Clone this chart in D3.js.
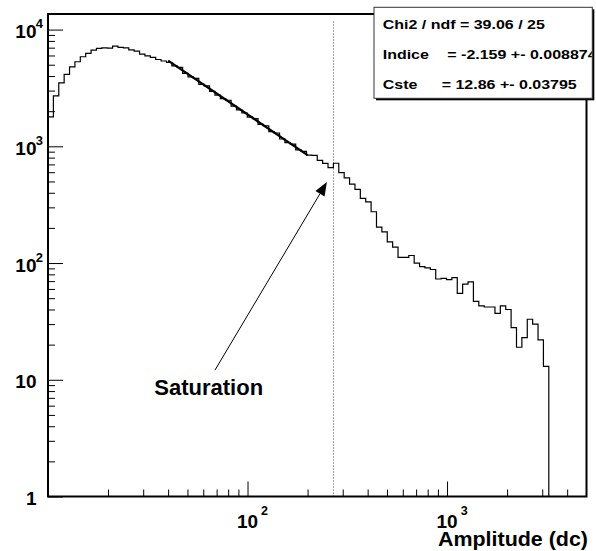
<!DOCTYPE html>
<html><head><meta charset="utf-8">
<script src="https://cdn.jsdelivr.net/npm/d3@7"></script>
<style>
body{margin:0;background:#fff}
svg{display:block}
text{font-family:"Liberation Sans",Arial,Helvetica,sans-serif;font-weight:bold;fill:#000}
</style>
</head><body>
<svg id="c" width="596" height="551"></svg>
<script>
// ---- data ----
const binRange = [10, 5000];      // log-spaced histogram range
const nBins = 100;
const counts = [
  1790, 2710, 3500, 4130, 4800, 5300, 5850, 6250, 6670, 6900,
  6980, 6950, 7220, 7040, 6980, 6700, 6550, 6170, 5965, 5770,
  5545, 5380, 5225, 4880, 4740, 4220, 3930, 3820, 3400, 3300,
  2950, 2740, 2560, 2480, 2210, 2055, 1930, 1780, 1730, 1540,
  1500, 1335, 1300, 1155, 1075, 1045, 931, 904, 841, 835,
  757, 714, 656, 716, 595, 536, 474, 427, 358, 334,
  275, 203, 185, 152, 137, 112, 112, 116, 100, 93,
  91, 88, 73, 74, 72, 75, 55, 66, 69, 47,
  43, 42, 42, 37, 43, 40, 28, 19, 23, 33,
  30, 22, 13, 0, 0, 0, 0, 0, 0, 0
];
const fitX = [40, 200];
const fitY = [5420, 841];
const xTickValues = [100, 1000];
const xTickBase = ["10", "10"];
const xTickExp = ["2", "3"];
const yTickValues = [1, 10, 100, 1000, 10000];
const yTickBase = ["1", "10", "10", "10", "10"];
const yTickExp = ["", "", "2", "3", "4"];
const statLabels = ["Chi2 / ndf", "Indice", "Cste"];
const statValues = ["= 39.06 / 25", "= -2.159 +- 0.008874", "= 12.86 +- 0.03795"];
const saturationX = 270;
const saturationTop = 12000;
const arrowFrom = [68.7, 12.1];
const arrowTo = [250, 494];
const noteText = "Saturation";
const notePos = [63.9, 7.4];
const xTitle = "Amplitude (dc)";
const yMax = 13600;

// ---- layout ----
const L = 48, R = 586.5, T = 14, B = 496.5;
const svg = d3.select("#c");
const x = d3.scaleLog().domain(binRange).range([L, R]);
const y = d3.scaleLog().domain([1, yMax]).range([B, T]).clamp(true);

// ticks
const yMinor = [];
for (let d = 0; d <= 4; d++) for (let m = 2; m <= 9; m++) { const v = m * Math.pow(10, d); if (v < yMax) yMinor.push(v); }
const xMinor = [];
for (let d = 1; d <= 3; d++) for (let m = 2; m <= 9; m++) { const v = m * Math.pow(10, d); if (v < binRange[1]) xMinor.push(v); }

function styleAxis(g) {
  g.select(".domain").remove();
  g.selectAll(".tick text").remove();
  g.selectAll(".tick line").attr("stroke", "#000").attr("stroke-width", 1);
}
svg.append("g").attr("transform", `translate(${L},0)`)
  .call(d3.axisRight(y).tickValues(yTickValues).tickSize(15).tickFormat("")).call(styleAxis);
svg.append("g").attr("transform", `translate(${L},0)`)
  .call(d3.axisRight(y).tickValues(yMinor).tickSize(7).tickFormat("")).call(styleAxis);
svg.append("g").attr("transform", `translate(0,${B})`)
  .call(d3.axisTop(x).tickValues(xTickValues).tickSize(15).tickFormat("")).call(styleAxis);
svg.append("g").attr("transform", `translate(0,${B})`)
  .call(d3.axisTop(x).tickValues(xMinor).tickSize(7).tickFormat("")).call(styleAxis);

// saturation dotted line
svg.append("line")
  .attr("x1", x(saturationX)).attr("x2", x(saturationX))
  .attr("y1", y(1)).attr("y2", y(saturationTop))
  .attr("stroke", "#444").attr("stroke-width", 1).attr("stroke-dasharray", "1,2");

// histogram
const edges = d3.range(nBins + 1).map(i => binRange[0] * Math.pow(binRange[1] / binRange[0], i / nBins));
let p = `M${x(edges[0])},${y(Math.max(counts[0], 1))}`;
counts.forEach((c, i) => {
  const yy = c > 0 ? y(c) : B;
  p += `V${yy}H${x(edges[i + 1])}`;
});
svg.append("path").attr("d", p).attr("fill", "none").attr("stroke", "#000").attr("stroke-width", 1.2);

// fit line
svg.append("path")
  .attr("d", d3.line().x(d => x(d[0])).y(d => y(d[1]))(fitX.map((v, i) => [v, fitY[i]])))
  .attr("fill", "none").attr("stroke", "#000").attr("stroke-width", 2.2);

// frame
svg.append("rect").attr("x", L).attr("y", T).attr("width", R - L).attr("height", B - T)
  .attr("fill", "none").attr("stroke", "#000").attr("stroke-width", 2);

// arrow
const ax0 = x(arrowFrom[0]), ay0 = y(arrowFrom[1]), ax1 = x(arrowTo[0]), ay1 = y(arrowTo[1]);
const ang = Math.atan2(ay1 - ay0, ax1 - ax0), hl = 13.5, hw = 5.3;
const bx = ax1 - hl * Math.cos(ang), by = ay1 - hl * Math.sin(ang);
svg.append("line").attr("x1", ax0).attr("y1", ay0).attr("x2", bx).attr("y2", by)
  .attr("stroke", "#000").attr("stroke-width", 1);
svg.append("polygon").attr("points", [
  [ax1, ay1],
  [bx + hw * Math.sin(ang), by - hw * Math.cos(ang)],
  [bx - hw * Math.sin(ang), by + hw * Math.cos(ang)]
].map(d => d.join(",")).join(" ")).attr("fill", "#000");

svg.append("text").attr("x", x(notePos[0])).attr("y", y(notePos[1]))
  .attr("text-anchor", "middle").attr("font-size", 22).text(noteText);

// y labels
yTickValues.forEach((v, i) => {
  const yy = y(v);
  svg.append("text").attr("x", 36.5).attr("y", yy + 8.7).attr("text-anchor", "end")
    .attr("font-size", 19).text(yTickBase[i]);
  if (yTickExp[i]) svg.append("text").attr("x", 35.8).attr("y", yy - 1.3)
    .attr("font-size", 13).text(yTickExp[i]);
});
// x labels
xTickValues.forEach((v, i) => {
  const xx = x(v);
  svg.append("text").attr("x", xx).attr("y", 528.3).attr("text-anchor", "middle")
    .attr("font-size", 19).text(xTickBase[i]);
  svg.append("text").attr("x", xx + 13.6).attr("y", 515)
    .attr("font-size", 12.5).text(xTickExp[i]);
});
svg.append("text").attr("x", 588).attr("y", 545.5).attr("text-anchor", "end")
  .attr("font-size", 20).attr("textLength", 150).attr("lengthAdjust", "spacingAndGlyphs").text(xTitle);

// stats box
const bxL = 374, bxT = 7.3, bxR = 592.3, bxB = 98.3;
svg.append("rect").attr("x", bxL + 2).attr("y", bxT + 2).attr("width", bxR - bxL).attr("height", bxB - bxT).attr("fill", "#000");
svg.append("rect").attr("x", bxL).attr("y", bxT).attr("width", bxR - bxL).attr("height", bxB - bxT)
  .attr("fill", "#fff").attr("stroke", "#333").attr("stroke-width", 1);
svg.append("clipPath").attr("id", "stclip").append("rect")
  .attr("x", bxL).attr("y", bxT).attr("width", bxR - bxL - 0.5).attr("height", bxB - bxT);
const sg = svg.append("g").attr("clip-path", "url(#stclip)");
const sx = 1.23, valX = [null, 447.3, 441.7];
statLabels.forEach((lab, i) => {
  const by0 = 29.3 + i * 30;
  if (i === 0) {
    sg.append("text").attr("transform", `translate(382.7,${by0}) scale(${sx},1)`)
      .attr("font-size", 13).text(lab + " " + statValues[i]);
  } else {
    sg.append("text").attr("transform", `translate(382.7,${by0}) scale(${sx},1)`)
      .attr("font-size", 13).text(lab);
    sg.append("text").attr("transform", `translate(${valX[i]},${by0}) scale(${sx},1)`)
      .attr("font-size", 13).text(statValues[i]);
  }
});
</script>
</body></html>
